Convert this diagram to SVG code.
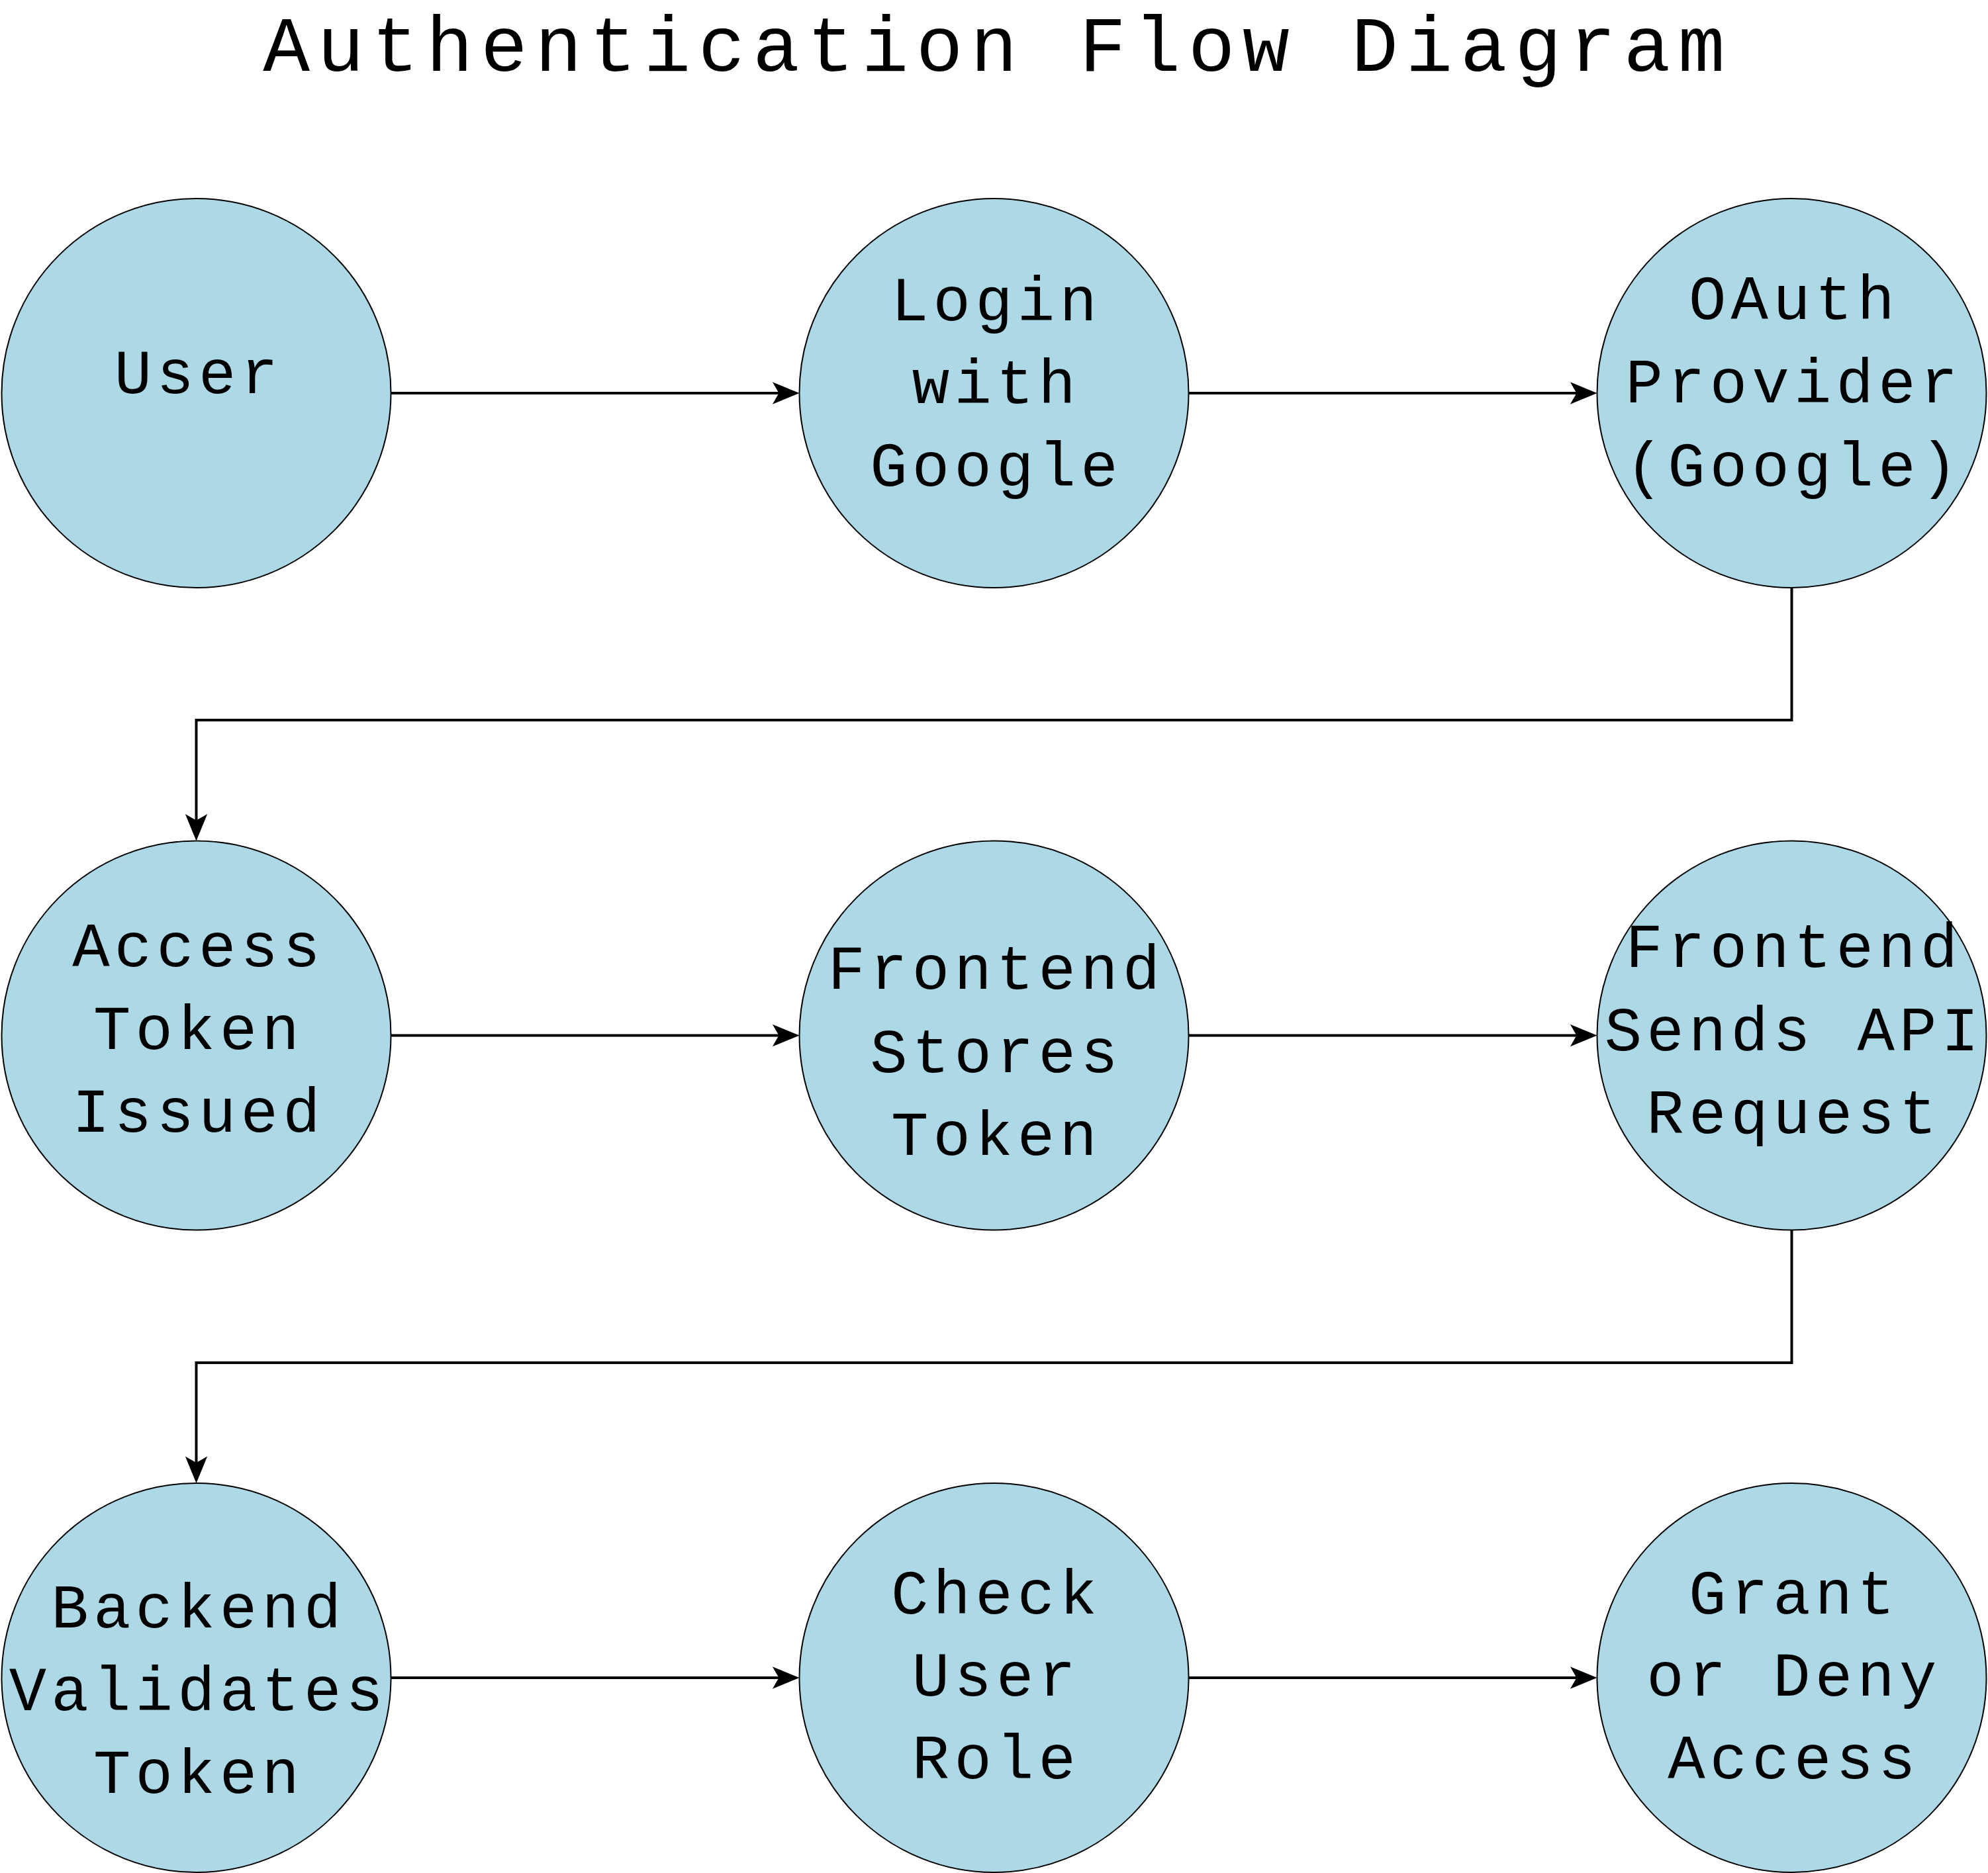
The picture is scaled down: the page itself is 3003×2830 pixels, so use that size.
<svg xmlns="http://www.w3.org/2000/svg" width="3003" height="2830" viewBox="0 0 3003 2830">
<style>
.node circle{fill:#ADD8E6;stroke:#000;stroke-width:2}
.node text{font-family:"Liberation Mono","Courier New",monospace;font-size:94px;letter-spacing:7.2px;fill:#000;text-anchor:middle}
.title{font-family:"Liberation Mono","Courier New",monospace;font-size:118px;letter-spacing:11.4px;fill:#000;text-anchor:middle}
.edge{fill:none;stroke:#000;stroke-width:4;marker-end:url(#arr)}
</style>
<defs>
<marker id="arr" markerUnits="userSpaceOnUse" markerWidth="44" markerHeight="36" viewBox="-12 -18 44 36" refX="0" refY="0" orient="auto" overflow="visible">
<path d="M30,0 L-10.6,-16.7 L-1,0 L-10.6,16.7 Z" fill="#000"/>
</marker>
</defs>
<rect width="3003" height="2830" fill="#fff"/>
<text class="title" x="1507" y="107">Authentication Flow Diagram</text>
<g id="connectors">
<path class="edge" d="M590.5,594 H1177.5"/>
<path class="edge" d="M1795.5,594 H2382.5"/>
<path class="edge" d="M2706.5,888.5 V1088 H296.5 V1240.5"/>
<path class="edge" d="M590.5,1564.5 H1177.5"/>
<path class="edge" d="M1795.5,1564.5 H2382.5"/>
<path class="edge" d="M2706.5,1858.5 V2059 H296.5 V2211"/>
<path class="edge" d="M590.5,2535 H1177.5"/>
<path class="edge" d="M1795.5,2535 H2382.5"/>
</g>
<g id="user" class="node">
<circle cx="296.5" cy="594" r="294"/>
<text x="300" y="594">User</text>
</g>
<g id="login" class="node">
<circle cx="1501.5" cy="594" r="294"/>
<text x="1505" y="484">Login</text>
<text x="1505" y="609">with</text>
<text x="1505" y="734">Google</text>
</g>
<g id="oauth" class="node">
<circle cx="2706.5" cy="594" r="294"/>
<text x="2710" y="482">OAuth</text>
<text x="2710" y="608">Provider</text>
<text x="2710" y="734">(Google)</text>
</g>
<g id="access_token" class="node">
<circle cx="296.5" cy="1564.5" r="294"/>
<text x="300" y="1460">Access</text>
<text x="300" y="1585">Token</text>
<text x="300" y="1710">Issued</text>
</g>
<g id="frontend_stores" class="node">
<circle cx="1501.5" cy="1564.5" r="294"/>
<text x="1505" y="1494">Frontend</text>
<text x="1505" y="1620">Stores</text>
<text x="1505" y="1745">Token</text>
</g>
<g id="frontend_sends" class="node">
<circle cx="2706.5" cy="1564.5" r="294"/>
<text x="2710" y="1461">Frontend</text>
<text x="2710" y="1587">Sends API</text>
<text x="2710" y="1712">Request</text>
</g>
<g id="backend" class="node">
<circle cx="296.5" cy="2535" r="294"/>
<text x="300" y="2459">Backend</text>
<text x="300" y="2584">Validates</text>
<text x="300" y="2709">Token</text>
</g>
<g id="check_role" class="node">
<circle cx="1501.5" cy="2535" r="294"/>
<text x="1505" y="2438">Check</text>
<text x="1505" y="2562">User</text>
<text x="1505" y="2687">Role</text>
</g>
<g id="grant_deny" class="node">
<circle cx="2706.5" cy="2535" r="294"/>
<text x="2710" y="2438">Grant</text>
<text x="2710" y="2562">or Deny</text>
<text x="2710" y="2687">Access</text>
</g>
</svg>
